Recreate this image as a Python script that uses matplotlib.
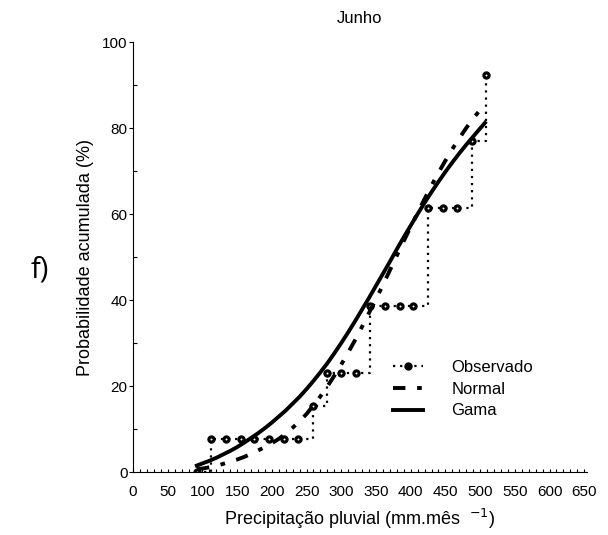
import numpy as np
import matplotlib.pyplot as plt
from matplotlib.ticker import MultipleLocator

plt.rcParams['font.family'] = ['Liberation Sans', 'DejaVu Sans']

obs_x = [92, 113, 134, 155, 175, 196, 217, 238, 259, 280, 300,
         321, 342, 363, 384, 404, 425, 446, 467, 488, 508]
obs_y = [0, 7.7, 7.7, 7.7, 7.7, 7.7, 7.7, 7.7, 15.4, 23.1, 23.1,
         23.1, 38.5, 38.5, 38.5, 38.5, 61.5, 61.5, 61.5, 76.9, 92.3]

# Fitted curves
fit_x = [92, 100, 110, 120, 130, 140, 150, 160, 170, 180, 190, 200,
         210, 220, 230, 240, 250, 260, 270, 280, 290, 300, 310, 320,
         330, 340, 350, 360, 370, 380, 390, 400, 410, 420, 430, 440,
         450, 460, 470, 480, 490, 500, 507]
normal_y = [0.7, 0.8, 1.1, 1.4, 1.9, 2.4, 2.9, 3.5, 4.2, 5.0, 5.8, 6.7,
            7.7, 8.9, 10.3, 11.8, 13.5, 15.5, 17.6, 19.9, 22.4, 25.0, 27.8, 30.7,
            33.8, 37.0, 40.2, 43.5, 46.9, 50.3, 53.7, 57.0, 60.3, 63.5, 66.6, 69.6,
            72.4, 75.1, 77.6, 80.0, 82.2, 84.2, 85.5]
gama_y = [1.5, 2.0, 2.6, 3.3, 4.1, 4.9, 5.8, 6.8, 7.9, 9.0, 10.2, 11.5,
          12.9, 14.3, 15.9, 17.5, 19.3, 21.2, 23.2, 25.3, 27.6, 30.0, 32.5, 35.1,
          37.8, 40.5, 43.3, 46.1, 48.9, 51.8, 54.6, 57.3, 60.0, 62.6, 65.1, 67.5,
          69.8, 72.0, 74.1, 76.1, 78.0, 79.9, 81.2]

fig = plt.figure(figsize=(6.08, 5.35), dpi=100)
ax = fig.add_axes([133/608, 1-472/535, 454/608, 430/535])

ax.plot(obs_x, obs_y, color='black', linestyle=(0, (1, 2.2)), linewidth=1.6,
        drawstyle='steps-post', marker='o', markersize=5.2,
        markerfacecolor='black', markeredgecolor='black', markeredgewidth=0.8,
        label='Observado')
# small light centre of the observed markers
ax.plot(obs_x, obs_y, linestyle='none', marker='o', markersize=1.4,
        markerfacecolor='white', markeredgewidth=0)
ax.plot(fit_x, normal_y, color='black', linestyle=(0, (3.2, 3.0, 1.2, 3.0)),
        linewidth=2.8, label='Normal')
ax.plot(fit_x, gama_y, color='black', linestyle='-', linewidth=2.8,
        label='Gama')

ax.set_xlim(0, 654)
ax.set_ylim(0, 100)
ax.xaxis.set_major_locator(MultipleLocator(50))
ax.xaxis.set_minor_locator(MultipleLocator(10))
ax.yaxis.set_major_locator(MultipleLocator(20))
ax.yaxis.set_minor_locator(MultipleLocator(10))
ax.tick_params(axis='x', which='both', direction='in', length=2, width=0.8,
               labelsize=11, pad=9)
ax.tick_params(axis='y', which='major', direction='out', length=3, width=0.8,
               labelsize=11, pad=1)
ax.tick_params(axis='y', which='minor', direction='in', length=3, width=0.8)

for s in ['top', 'right']:
    ax.spines[s].set_visible(False)
ax.spines['left'].set_linewidth(0.8)
ax.spines['bottom'].set_linewidth(0.8)

ax.set_xlabel('Precipitação pluvial (mm.mês  $^{-1}$)', fontsize=13, labelpad=6)
ax.set_ylabel('Probabilidade acumulada (%)', fontsize=13, labelpad=6)
ax.set_title('Junho', fontsize=12, pad=14)

ax.legend(loc='upper left', bbox_to_anchor=(0.54, 0.295), frameon=False,
          fontsize=12, handlelength=1.8, handletextpad=1.7, labelspacing=0.4,
          numpoints=1)

fig.text(0.066, 0.495, 'f)', fontsize=21, family='Open Sans',
         ha='center', va='center')

fig.savefig('out.png', dpi=100)
